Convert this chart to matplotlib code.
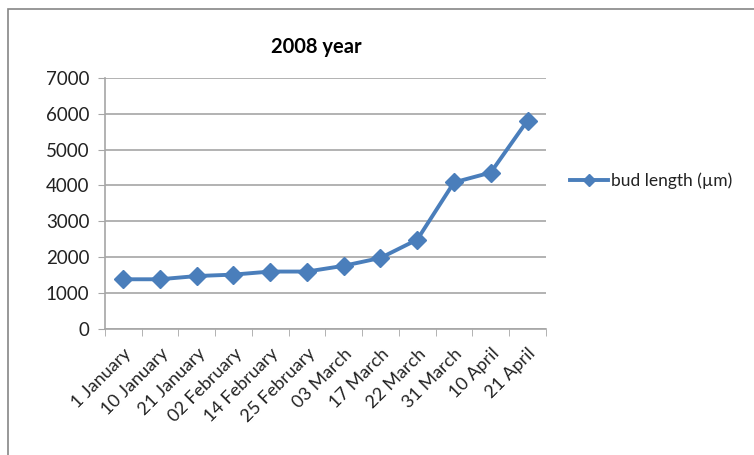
import matplotlib.pyplot as plt
import matplotlib.patches as patches
import numpy as np

# data
dates = ['1 January', '10 January', '21 January', '02 February', '14 February',
         '25 February', '03 March', '17 March', '22 March', '31 March',
         '10 April', '21 April']
bud_length = [1385, 1385, 1475, 1515, 1600, 1600, 1760, 1980, 2490, 4085, 4360, 5810]
yticks = [0, 1000, 2000, 3000, 4000, 5000, 6000, 7000]

blue = '#4a7ebb'
grey = '#a6a6a6'
plt.rcParams['font.family'] = ['Lato', 'DejaVu Sans']

fig = plt.figure(figsize=(7.54, 4.55), dpi=100)
ax = fig.add_axes([0.139, 0.277, 0.585, 0.552])

# outer chart frame
fig.patches.append(patches.Rectangle((8 / 754, -0.01), 1.0, 1 - 9 / 455 + 0.01,
                                     transform=fig.transFigure, fill=False,
                                     edgecolor='#868686', linewidth=1.2))

x = np.arange(len(dates))
line, = ax.plot(x, bud_length, color=blue, linewidth=2.8, marker='D',
                markersize=9, label='bud length (\u00b5m)', zorder=3)

ax.set_xlim(-0.5, len(dates) - 0.5)
ax.set_ylim(0, 7000)
ax.set_yticks(yticks)
ax.tick_params(axis='y', length=5, color=grey, labelsize=13.5, pad=6, labelcolor='#222222')
ax.set_xticks(x)
ax.set_xticklabels(dates, rotation=45, ha='right', rotation_mode='anchor', fontsize=13,
                   color='#222222')
ax.tick_params(axis='x', length=0, pad=12)
ax.set_xticks(np.arange(-0.5, len(dates)), minor=True)
ax.tick_params(axis='x', which='minor', length=5, color=grey)

ax.grid(axis='y', color=grey, linewidth=1.2)
ax.set_axisbelow(True)
for side in ['top', 'right']:
    ax.spines[side].set_visible(False)
for side in ['left', 'bottom']:
    ax.spines[side].set_color(grey)
    ax.spines[side].set_linewidth(1.2)

fig.text(0.42, 0.897, '2008 year', ha='center', va='center', fontsize=14.5, fontweight='bold')

ax.legend(handles=[line], loc='center left', bbox_to_anchor=(1.03, 0.59), frameon=False,
          fontsize=12.5, handlelength=2.2, handletextpad=0.2, markerscale=0.7,
          labelcolor='#222222', borderaxespad=0.2)

fig.savefig('out.png', dpi=100)
